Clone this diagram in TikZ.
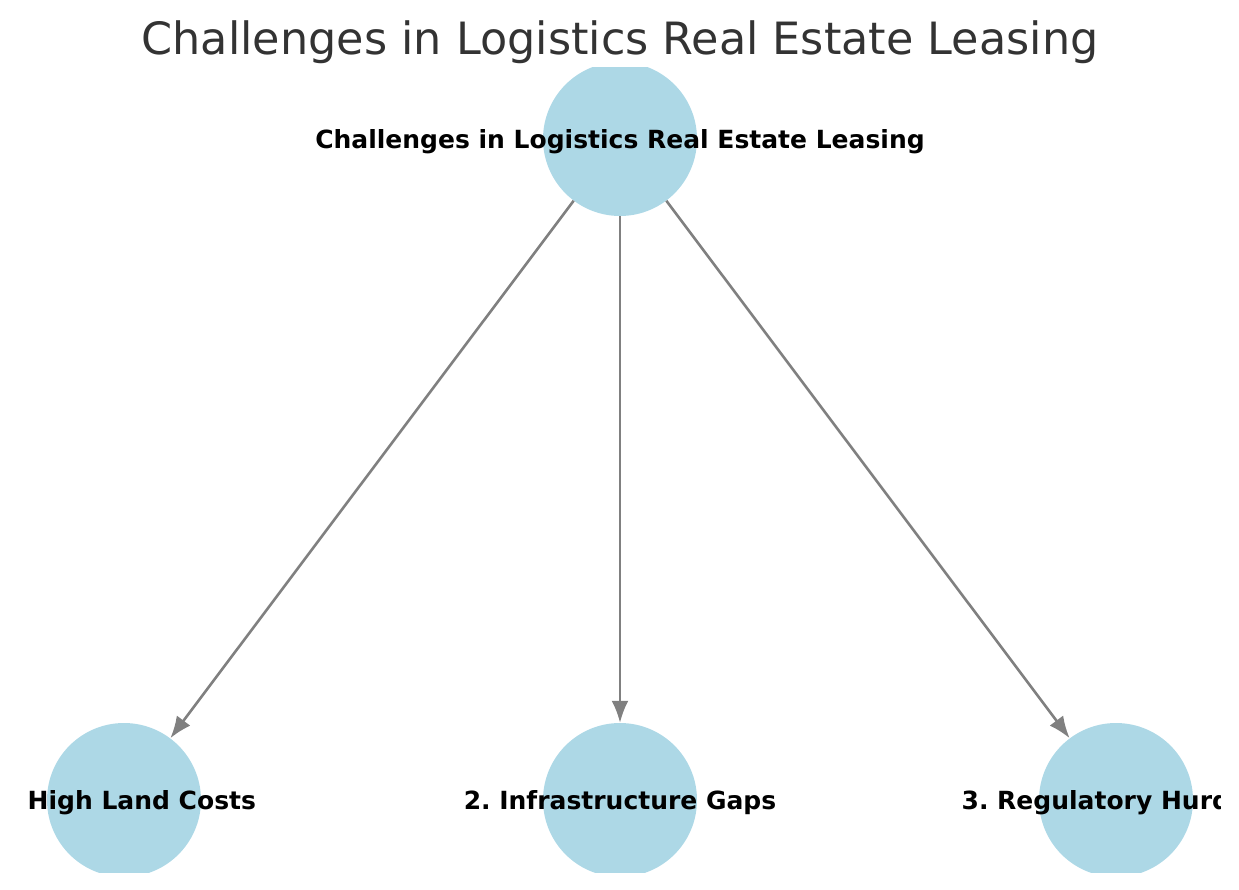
\documentclass[tikz,border=0pt]{standalone}
\usepackage{fontspec}
\setmainfont{DejaVu Sans}
\usetikzlibrary{arrows.meta}
\frenchspacing

\begin{document}
\begin{tikzpicture}[x=1pt, y=-1pt,
    topic/.style={circle, fill=lightblue, minimum size=154pt, inner sep=0pt},
    topictext/.style={font=\fontsize{25}{30}\selectfont\bfseries, yshift=-3pt},
    link/.style={draw=gray, line width=2.6pt, -{Latex[length=22pt, width=17pt]}}]
      \definecolor{lightblue}{HTML}{ADD8E6}
      \useasboundingbox (0,0) rectangle (1239,890);
      \node[font=\fontsize{44.5}{52}\selectfont, text=black!80] (title) at (620,42) {Challenges in Logistics Real Estate Leasing};
      \begin{scope}
        \clip (28,68) rectangle (1220,872);
        % circles
        \node[topic] (root) at (620,139) {};
        \node[topic] (land) at (124,800) {};
        \node[topic] (infra) at (620,800) {};
        \node[topic] (reg) at (1116,800) {};
        % labels
        \node[topictext] (rootlbl) at (root) {Challenges in Logistics Real Estate Leasing};
        \node[topictext] (landlbl) at (land) {1. High Land Costs};
        \node[topictext] (infralbl) at (infra) {2. Infrastructure Gaps};
        \node[topictext] (reglbl) at (reg) {3. Regulatory Hurdles};
      \end{scope}
      \draw[link] (root) -- (land);
      \draw[link] (root) -- (infra);
      \draw[link] (root) -- (reg);
\end{tikzpicture}
\end{document}
